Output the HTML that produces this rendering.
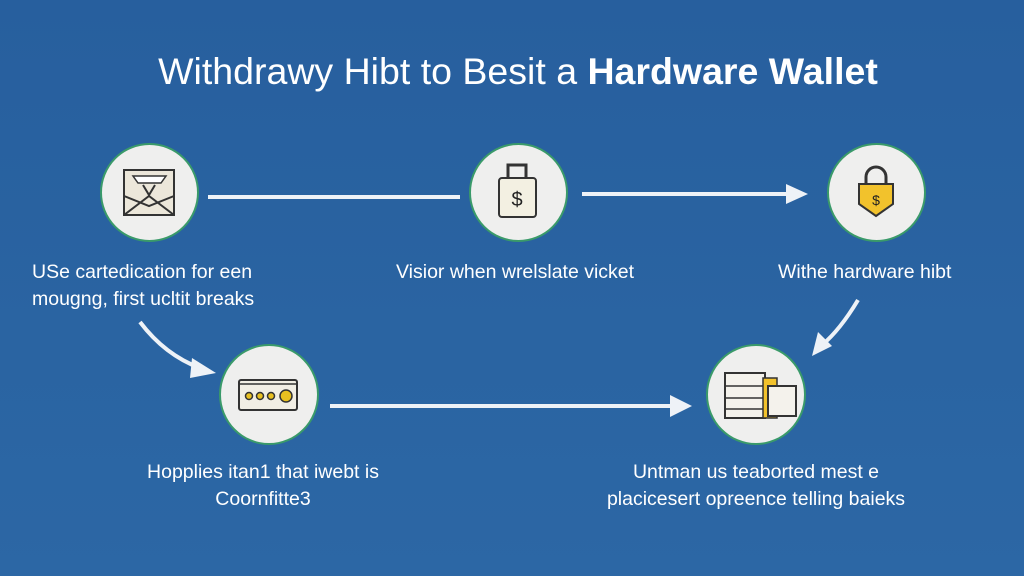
<!DOCTYPE html>
<html><head><style>
body{margin:0;width:1024px;height:576px;overflow:hidden;background:linear-gradient(180deg,#275f9e 0%,#2a64a2 60%,#2c67a5 100%);font-family:"Liberation Sans",sans-serif;position:relative}
.t{position:absolute;color:#fff;font-size:19.5px;white-space:nowrap;line-height:27px}
.c{position:absolute;border-radius:50%;background:#efefee;border:2px solid #3a9a6a;box-sizing:border-box}
</style></head><body>
<div class="t" style="left:0;width:1036px;top:49px;text-align:center;font-size:37.5px;line-height:44px">Withdrawy Hibt to Besit a <b>Hardware Wallet</b></div>
<div class="c" style="left:100px;top:143px;width:99px;height:99px"></div>
<div class="c" style="left:469px;top:143px;width:99px;height:99px"></div>
<div class="c" style="left:827px;top:143px;width:99px;height:99px"></div>
<div class="c" style="left:219px;top:344px;width:100px;height:101px"></div>
<div class="c" style="left:706px;top:344px;width:100px;height:101px"></div>
<svg width="1024" height="576" style="position:absolute;left:0;top:0">
<g stroke="#eef2f7" stroke-width="4" fill="none">
<line x1="208" y1="197" x2="460" y2="197"/>
<line x1="582" y1="194" x2="790" y2="194"/>
<line x1="330" y1="406" x2="672" y2="406"/>
<path d="M140 322 Q165 355 200 368"/>
<path d="M858 300 Q840 330 822 345"/>
</g>
<g fill="#eef2f7">
<polygon points="808,194 786,184 786,204"/>
<polygon points="692,406 670,395 670,417"/>
<polygon points="216,373 192,358 190,378"/>
<polygon points="812,356 818,332 832,346"/>
</g>
<rect x="124" y="170" width="50" height="45" fill="#ece7da" stroke="#333" stroke-width="2"/>
<path d="M124 215 L149 196 L174 215 M124 196 L149 206 L174 196" stroke="#333" stroke-width="2" fill="none"/>
<path d="M133 176 h33 l-5 7 h-23z" fill="#fff" stroke="#333" stroke-width="1.5"/>
<path d="M143 185 l6 10 l6 -10" stroke="#333" stroke-width="2" fill="none"/>
<rect x="508" y="165" width="18" height="16" fill="none" stroke="#333" stroke-width="3"/>
<rect x="499" y="178" width="37" height="39" rx="3" fill="#f3f0e2" stroke="#333" stroke-width="2"/>
<text x="517" y="206" font-size="20" text-anchor="middle" fill="#222" font-family="Liberation Sans">$</text>
<path d="M866 185 v-8 a10 10 0 0 1 20 0 v8" stroke="#333" stroke-width="3" fill="none"/>
<path d="M859 184 h34 v20 l-17 12 l-17 -12z" fill="#f2c22c" stroke="#333" stroke-width="2"/>
<text x="876" y="205" font-size="14" text-anchor="middle" fill="#222" font-family="Liberation Sans">$</text>
<rect x="239" y="380" width="58" height="30" rx="2" fill="#f1eee4" stroke="#333" stroke-width="2"/>
<line x1="239" y1="384" x2="297" y2="384" stroke="#333" stroke-width="1.5"/>
<g fill="#e8c020" stroke="#333" stroke-width="1.5"><circle cx="249" cy="396" r="3.5"/><circle cx="260" cy="396" r="3.5"/><circle cx="271" cy="396" r="3.5"/><circle cx="286" cy="396" r="6"/></g>
<rect x="725" y="373" width="40" height="45" fill="#f4f2ec" stroke="#333" stroke-width="2"/>
<g stroke="#333" stroke-width="1.5"><line x1="725" y1="386" x2="765" y2="386"/><line x1="725" y1="398" x2="765" y2="398"/><line x1="725" y1="409" x2="765" y2="409"/></g>
<rect x="763" y="378" width="14" height="40" fill="#f2c22c" stroke="#333" stroke-width="1.5"/>
<rect x="768" y="386" width="28" height="30" fill="#f4f2ec" stroke="#333" stroke-width="2"/>
</svg>
<div class="t" style="left:32px;top:259px">USe cartedication for een<br>mougng, first ucltit breaks</div>
<div class="t" style="left:396px;top:259px">Visior when wrelslate vicket</div>
<div class="t" style="left:778px;top:259px">Withe hardware hibt</div>
<div class="t" style="left:63px;width:400px;top:459px;text-align:center">Hopplies itan1 that iwebt is<br>Coornfitte3</div>
<div class="t" style="left:556px;width:400px;top:459px;text-align:center">Untman us teaborted mest e<br>placicesert opreence telling baieks</div>
</body></html>
